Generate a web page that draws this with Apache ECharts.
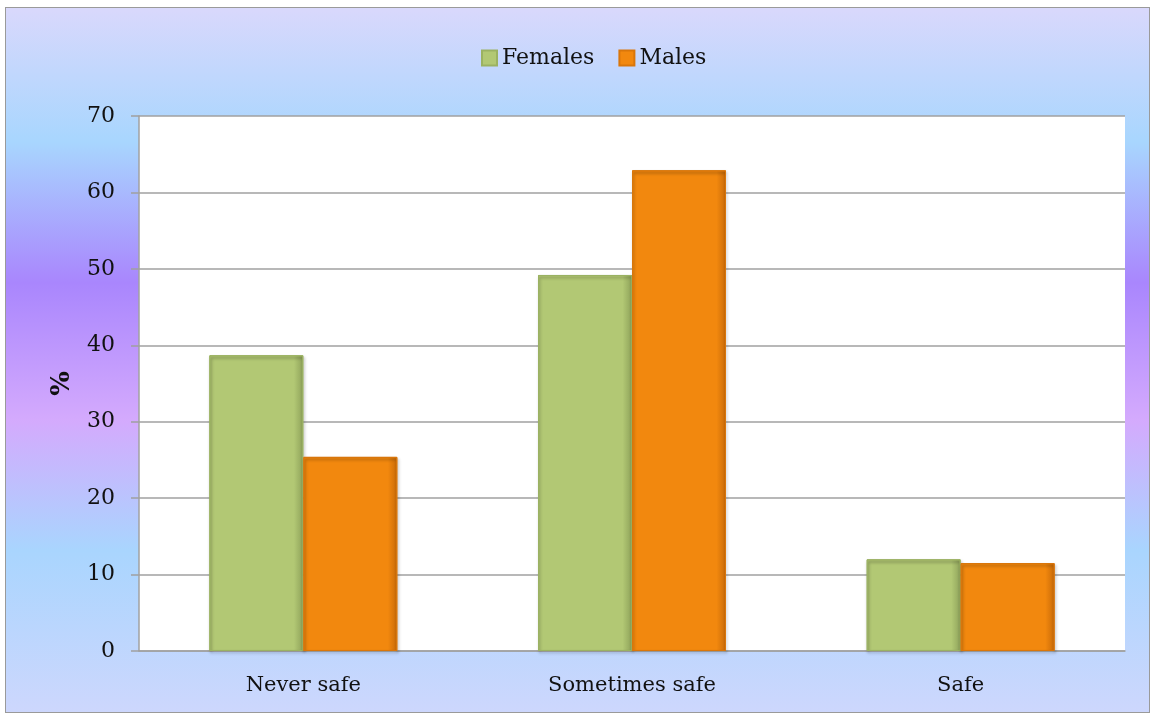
<!DOCTYPE html>
<html>
<head>
<meta charset="utf-8">
<script src="https://cdn.jsdelivr.net/npm/echarts@6/dist/echarts.min.js"></script>
<style>
  html, body { margin: 0; padding: 0; width: 1153px; height: 715px; overflow: hidden; background: #fff; }
  #frame {
    position: absolute; left: 5px; top: 7px; width: 1143px; height: 704px;
    border: 1.5px solid #9a9a9a;
    background: linear-gradient(to bottom, #d9d8fc 0%, #a8d6fe 19%, #a986fd 39%, #d4aafd 58.5%, #a9d5fe 77%, #cdd7fd 100%);
  }
  #chart { position: absolute; left: 0; top: 0; width: 1153px; height: 715px; }
</style>
</head>
<body>
<div id="frame"></div>
<div id="chart"></div>
<script>
const categories = ["Never safe", "Sometimes safe", "Safe"];
const females = [38.7, 49.2, 12.0];
const males = [25.4, 62.9, 11.5];
const seriesNames = ["Females", "Males"];

const chart = echarts.init(document.getElementById("chart"));

// flat body with a darker right edge, close to the bevelled office look
function barFill(mid, dark) {
  return new echarts.graphic.LinearGradient(0, 0, 1, 0, [
    { offset: 0, color: mid },
    { offset: 0.9, color: mid },
    { offset: 1, color: dark }
  ]);
}

const font = "DejaVu Serif";

chart.setOption({
  backgroundColor: "transparent",
  textStyle: { fontFamily: font },
  legend: {
    top: 42,
    left: 476,
    icon: "rect",
    itemWidth: 15,
    itemHeight: 15,
    itemGap: 24,
    textStyle: { fontFamily: font, fontSize: 22, color: "#111" },
    data: seriesNames
  },
  grid: {
    left: 139, top: 116, right: 28, bottom: 64,
    show: true, backgroundColor: "#fff", borderWidth: 0
  },
  xAxis: {
    type: "category",
    data: categories,
    axisLine: { lineStyle: { color: "#a0a0a0", width: 1.5 } },
    axisTick: { show: false },
    axisLabel: { fontFamily: font, fontSize: 21, color: "#111", margin: 24 }
  },
  yAxis: {
    type: "value",
    min: 0, max: 70, interval: 10,
    name: "%",
    nameLocation: "middle",
    nameRotate: 90,
    nameGap: 64,
    nameTextStyle: { fontFamily: font, fontSize: 26, fontWeight: "bold", color: "#111" },
    axisLine: { show: true, lineStyle: { color: "#a0a0a0", width: 1.5 } },
    axisTick: { show: true, length: 8, lineStyle: { color: "#a0a0a0", width: 1.5 } },
    axisLabel: { fontFamily: font, fontSize: 22, color: "#111", margin: 24 },
    splitLine: { lineStyle: { color: "#a0a0a0", width: 1.5 } }
  },
  series: [
    {
      name: seriesNames[0],
      type: "bar",
      data: females,
      barWidth: "28.6%",
      barGap: "0%",
      itemStyle: {
        color: barFill("#b2c874", "#8ea25a"),
        borderColor: "#9bb262",
        borderWidth: 1,
        shadowColor: "rgba(0,0,0,0.35)",
        shadowBlur: 3,
        shadowOffsetX: 1,
        shadowOffsetY: 2
      }
    },
    {
      name: seriesNames[1],
      type: "bar",
      data: males,
      barWidth: "28.6%",
      barGap: "0%",
      itemStyle: {
        color: barFill("#f2880e", "#c86a08"),
        borderColor: "#d9760a",
        borderWidth: 1,
        shadowColor: "rgba(0,0,0,0.35)",
        shadowBlur: 3,
        shadowOffsetX: 1,
        shadowOffsetY: 2
      }
    }
  ]
});
</script>
</body>
</html>
